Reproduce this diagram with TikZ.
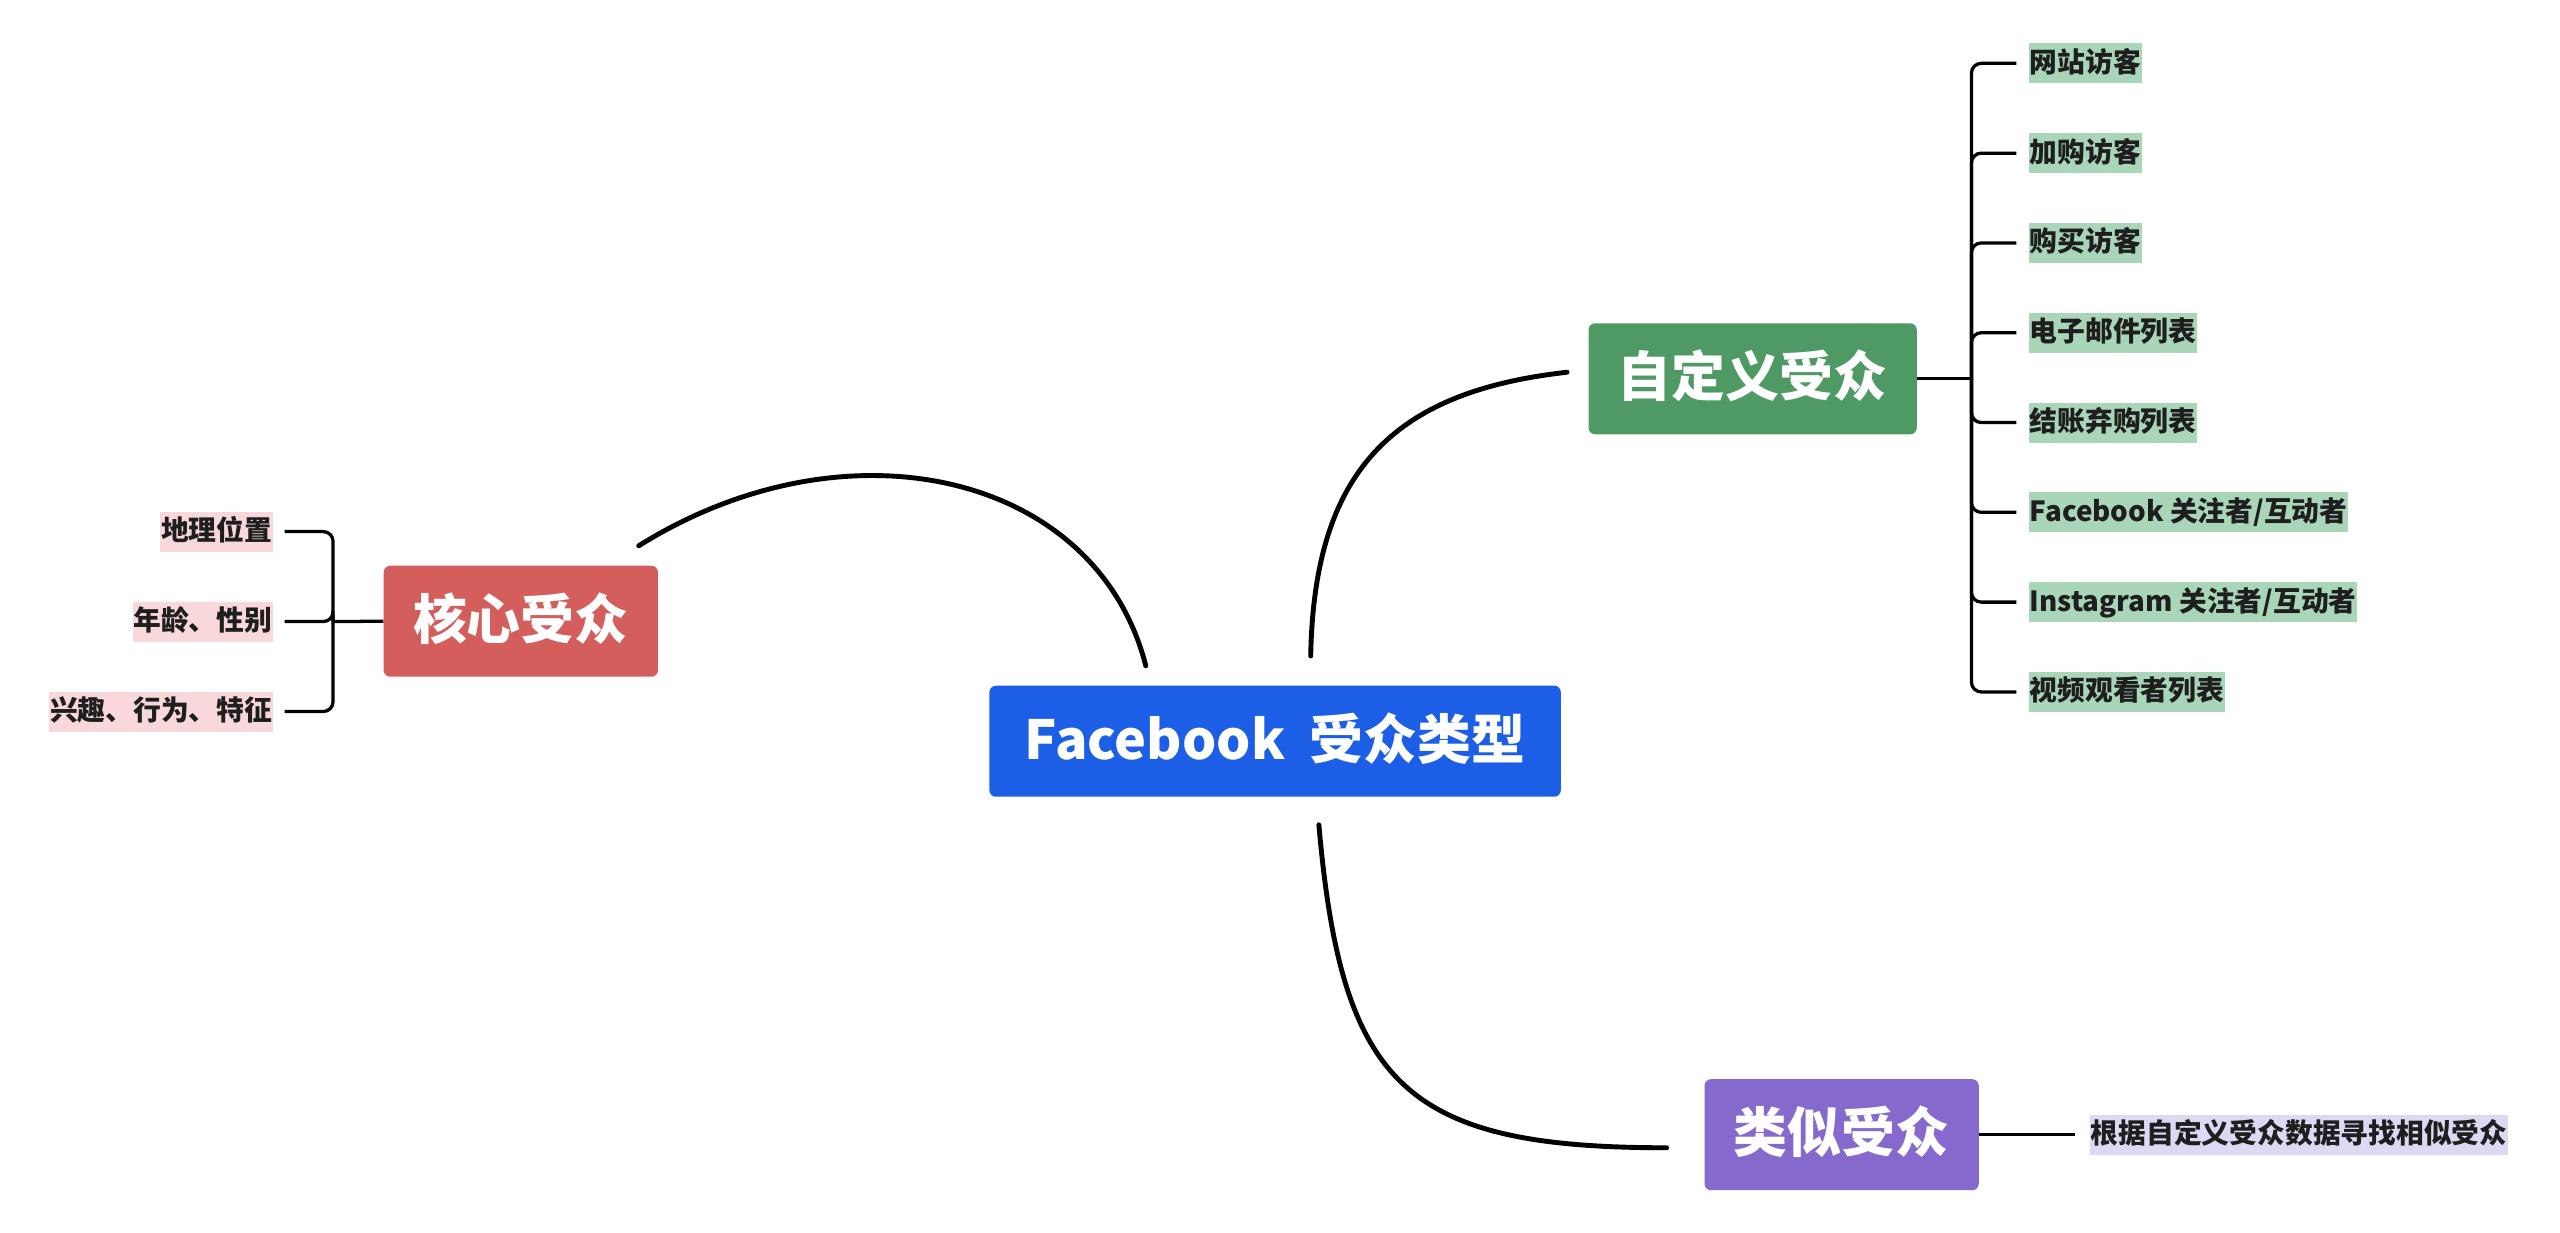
\documentclass[tikz,border=0pt]{standalone}
\usepackage{fontspec}
\setmainfont{Noto Sans CJK SC}
\usepackage{tikz}
\usetikzlibrary{positioning, calc}

\definecolor{rootblue}{HTML}{1C5FE6}
\definecolor{customgreen}{HTML}{4F9A64}
\definecolor{corered}{HTML}{D45E5C}
\definecolor{similarpurple}{HTML}{8569CC}
\definecolor{leafgreen}{HTML}{A9D5B9}
\definecolor{leafred}{HTML}{F8D8DB}
\definecolor{leafpurple}{HTML}{DED8F3}
\definecolor{leaftext}{HTML}{1E1E1E}

\begin{document}
\begin{tikzpicture}[x=1pt, y=-1pt,
        topic/.style={rectangle, rounded corners=4pt, fill=#1, text=white,
            font=\fontsize{33}{33}\selectfont\bfseries,
            minimum height=68pt, inner xsep=18pt, text height=27pt, text depth=5pt},
        leaf/.style={rectangle, fill=#1, text=leaftext,
            font=\fontsize{17}{17}\selectfont\bfseries,
            inner xsep=0.5pt, inner ysep=3.25pt, text height=14.5pt, text depth=3.5pt},
        branch/.style={line width=3pt, line cap=round},
        twig/.style={line width=2pt, rounded corners=6pt}]
        \fill[white] (0,0) rectangle (1568,754.6);
        \useasboundingbox (0,0) rectangle (1568,754.6);

        \node[topic=rootblue, minimum width=350pt] (root) at (781, 454) {Facebook~~受众类型};
        \node[topic=customgreen] (custom) at (1073.5, 232) {自定义受众};
        \node[topic=corered] (core) at (319, 380.5) {核心受众};
        \node[topic=similarpurple] (similar) at (1128, 695) {类似受众};

        % main branches
        \draw[branch] ([shift={(96,-12)}]root.north west)
            .. controls +(-30,-118) and +(128,-80) .. ([shift={(-12,-12)}]core.north east);
        \draw[branch] ([shift={(197,-18)}]root.north west)
            .. controls +(2,-112) and +(-108,12) .. ([shift={(-13,-4)}]custom.west);
        \draw[branch] ([shift={(202,17)}]root.south west)
            .. controls +(14,160) and +(-160,0) .. ([shift={(-23,8)}]similar.west);

        % custom audiences
        \coordinate (cj) at (1207.5, 232);
        \draw[twig] (custom.east) -- (cj);
        \foreach \txt [count=\i from 0] in {网站访客, 加购访客, 购买访客, 电子邮件列表, 结账弃购列表,
            Facebook 关注者/互动者, Instagram 关注者/互动者, 视频观看者列表} {
            \node[leaf=leafgreen, anchor=west] (c\i) at (1242.5, {38.8+55*\i}) {\txt};
            \draw[twig, shorten >=7.5pt] (cj) |- (c\i.west);
        }

        % core audiences
        \coordinate (kj) at (204, 380.7);
        \draw[twig] (core.west) -- (kj);
        \foreach \txt [count=\i from 0] in {地理位置, 年龄、性别, 兴趣、行为、特征} {
            \node[leaf=leafred, anchor=east] (k\i) at (167.4, {325.6+55.1*\i}) {\txt};
            \draw[twig, shorten >=7pt] (kj) |- (k\i.east);
        }

        % lookalike
        \node[leaf=leafpurple, anchor=west] (s0) at (1280, 695) {根据自定义受众数据寻找相似受众};
        \draw[twig, shorten >=9pt] (similar.east) -- (s0.west);
    \end{tikzpicture}
\end{document}
